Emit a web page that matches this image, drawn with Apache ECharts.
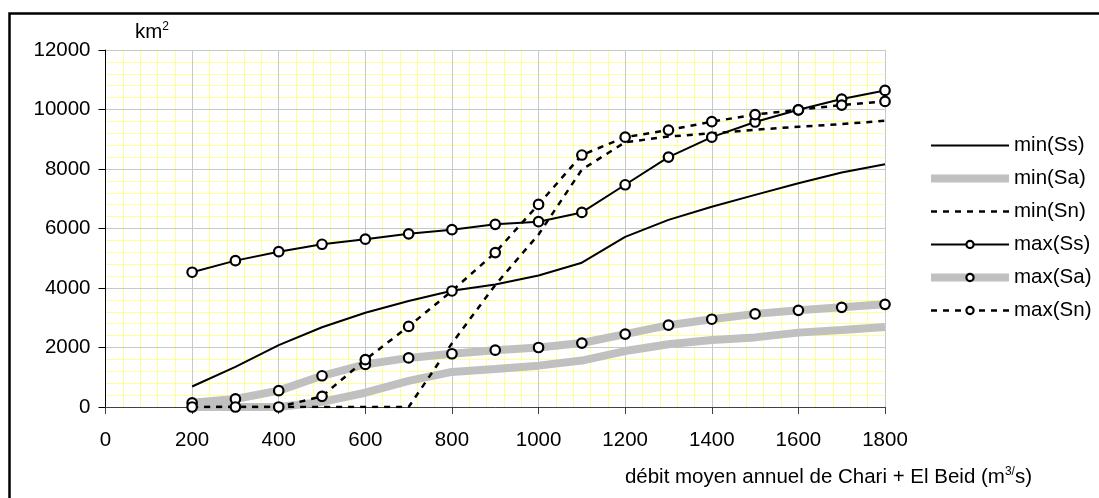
<!DOCTYPE html>
<html>
<head>
<meta charset="utf-8">
<script src="https://cdn.jsdelivr.net/npm/echarts@6/dist/echarts.min.js"></script>
<style>
  html, body { margin: 0; padding: 0; background: #fff; }
  #chart { width: 1099px; height: 498px; }
</style>
</head>
<body>
<div id="chart"></div>
<script>
// Mean annual discharge of Chari + El Beid (m3/s)
const debit = [200, 300, 400, 500, 600, 700, 800, 900, 1000, 1100, 1200, 1300, 1400, 1500, 1600, 1700, 1800];

// Areas (km2)
const minSs = [690, 1350, 2080, 2680, 3170, 3560, 3910, 4120, 4420, 4850, 5720, 6290, 6730, 7130, 7520, 7880, 8160];
const minSa = [0, 0, 0, 170, 480, 880, 1180, 1280, 1390, 1560, 1880, 2110, 2250, 2340, 2500, 2590, 2690];
const minSn = [0, 0, 0, 0, 0, 0, 2140, 4100, 5800, 7980, 8900, 9090, 9200, 9320, 9420, 9510, 9620];
const maxSs = [4530, 4920, 5220, 5470, 5640, 5820, 5960, 6140, 6230, 6540, 7470, 8400, 9070, 9580, 9990, 10350, 10640];
const maxSa = [140, 270, 550, 1050, 1430, 1650, 1790, 1910, 2000, 2150, 2450, 2750, 2950, 3130, 3250, 3350, 3450];
const maxSn = [0, 0, 0, 360, 1590, 2710, 3900, 5190, 6810, 8470, 9070, 9310, 9590, 9830, 9990, 10150, 10270];

const seriesNames = ['min(Ss)', 'min(Sa)', 'min(Sn)', 'max(Ss)', 'max(Sa)', 'max(Sn)'];

const FONT = 'Liberation Sans, Arial, sans-serif';
const FS = 20.5;

function pairs(vals) {
  return debit.map((x, i) => [x, vals[i]]);
}

const blackSolid = { color: '#000', width: 2, type: 'solid' };
const grayThick = { color: '#c0c0c0', width: 8, type: 'solid' };
const blackDash = { color: '#000', width: 2.5, type: [6, 6] };

function makeSeries(name, vals, lineStyle, withMarkers) {
  return {
    name: name,
    type: 'line',
    xAxisIndex: 0,
    yAxisIndex: 0,
    data: pairs(vals),
    symbol: withMarkers ? 'circle' : 'none',
    symbolSize: 9.5,
    showSymbol: withMarkers,
    itemStyle: { color: '#fff', borderColor: '#000', borderWidth: 2.2 },
    lineStyle: lineStyle,
    color: lineStyle.color,
    z: 3,
    animation: false,
    emphasis: { disabled: true },
    silent: true
  };
}

// hidden symbol in the legend for the curves drawn without markers
function legendItem(name, withMarkers) {
  return withMarkers
    ? { name: name }
    : { name: name, itemStyle: { opacity: 0, color: 'transparent', borderColor: 'transparent', borderWidth: 0 } };
}

const plainNum = v => String(v);

const chart = echarts.init(document.getElementById('chart'), null, { renderer: 'canvas' });

chart.setOption({
  backgroundColor: '#fff',
  animation: false,
  textStyle: { fontFamily: FONT },
  grid: { left: 105.5, right: 214, top: 50, bottom: 91, containLabel: false },
  xAxis: [
    {
      // main axis: labels, ticks, grey grid every 200
      type: 'value',
      min: 0,
      max: 1800,
      interval: 200,
      z: 1,
      axisLine: { show: true, onZero: false, lineStyle: { color: '#404040', width: 1 } },
      axisTick: { show: true, length: 7, lineStyle: { color: '#404040' } },
      axisLabel: { color: '#000', fontSize: FS, fontFamily: FONT, margin: 23, formatter: plainNum },
      splitLine: { show: true, lineStyle: { color: '#c8c8c8', width: 1 } }
    },
    {
      // fine yellow grid every 40
      type: 'value',
      min: 0,
      max: 1800,
      interval: 40,
      z: 0,
      position: 'bottom',
      axisLine: { show: false },
      axisTick: { show: false },
      axisLabel: { show: false },
      splitLine: { show: true, lineStyle: { color: '#ffff99', width: 1 } }
    }
  ],
  yAxis: [
    {
      type: 'value',
      min: 0,
      max: 12000,
      interval: 2000,
      z: 1,
      axisLine: { show: true, onZero: false, lineStyle: { color: '#000', width: 1 } },
      axisTick: { show: true, length: 7, lineStyle: { color: '#000' } },
      axisLabel: { color: '#000', fontSize: FS, fontFamily: FONT, margin: 15, formatter: plainNum },
      splitLine: { show: true, lineStyle: { color: '#c8c8c8', width: 1 } }
    },
    {
      // fine yellow grid every 400
      type: 'value',
      min: 0,
      max: 12000,
      interval: 400,
      z: 0,
      position: 'left',
      axisLine: { show: false },
      axisTick: { show: false },
      axisLabel: { show: false },
      splitLine: { show: true, lineStyle: { color: '#ffff99', width: 1 } }
    }
  ],
  legend: {
    orient: 'vertical',
    left: 927,
    top: 135,
    padding: 0,
    itemWidth: 78,
    itemHeight: 9,
    itemGap: 12,
    selectedMode: false,
    data: seriesNames.map((n, i) => legendItem(n, i >= 3)),
    textStyle: { color: '#000', fontSize: FS, fontFamily: FONT, lineHeight: 21, padding: 0 },
    lineStyle: { width: 'inherit', type: 'inherit', color: 'inherit' },
    itemStyle: { borderWidth: 'inherit', borderColor: 'inherit', color: 'inherit' }
  },
  graphic: [
    {
      type: 'rect',
      shape: { x: 9.5, y: 13.5, width: 1120, height: 520 },
      style: { fill: null, stroke: '#000', lineWidth: 2.5 },
      silent: true
    },
    {
      type: 'text',
      left: 135,
      top: 21,
      style: {
        text: '{a|km}{s|2}',
        rich: {
          a: { fontSize: FS, fontFamily: FONT, fill: '#000', lineHeight: 22, verticalAlign: 'bottom' },
          s: { fontSize: 12, fontFamily: FONT, fill: '#000', lineHeight: 22, verticalAlign: 'top' }
        }
      }
    },
    {
      type: 'text',
      right: 1099 - 1032,
      top: 466,
      style: {
        text: '{a|débit moyen annuel de Chari + El Beid (m}{s|3/}{a|s)}',
        rich: {
          a: { fontSize: FS, fontFamily: FONT, fill: '#000', lineHeight: 22, verticalAlign: 'bottom' },
          s: { fontSize: 12, fontFamily: FONT, fill: '#000', lineHeight: 22, verticalAlign: 'top' }
        }
      }
    }
  ],
  series: [
    makeSeries(seriesNames[0], minSs, blackSolid, false),
    makeSeries(seriesNames[1], minSa, grayThick, false),
    makeSeries(seriesNames[2], minSn, blackDash, false),
    makeSeries(seriesNames[3], maxSs, blackSolid, true),
    makeSeries(seriesNames[4], maxSa, grayThick, true),
    makeSeries(seriesNames[5], maxSn, blackDash, true)
  ]
});
</script>
</body>
</html>
